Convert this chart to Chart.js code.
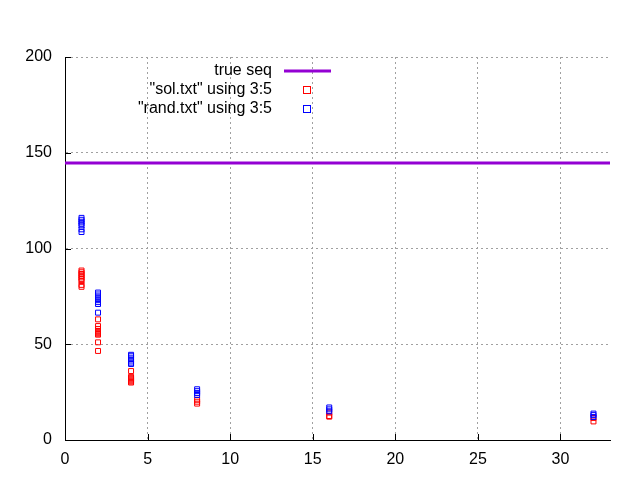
<!DOCTYPE html>
<html>
<head>
<meta charset="utf-8">
<script src="https://cdn.jsdelivr.net/npm/chart.js@4/dist/chart.umd.min.js"></script>
<style>
  html, body { margin: 0; padding: 0; background: #fff; }
  #wrap { width: 640px; height: 480px; }
</style>
</head>
<body>
<div id="wrap"><canvas id="c" width="640" height="480"></canvas></div>
<script>
// ---- data ----
const trueSeqLabel = 'true seq';
const solLabel = '"sol.txt" using 3:5';
const randLabel = '"rand.txt" using 3:5';

const trueSeqX = [0, 33];
const trueSeqY = [144.6, 144.6];

const solX = [1,1,1,1,1,1,1,1,1,
              2,2,2,2,2,2,2,2,2,2,
              4,4,4,4,4,4,4,4,
              8,8,8,
              16,16,16,
              32,32];
const solY = [88.5,87.6,86.7,85.8,84.9,84,83,81,80,
              63,59.5,58,57,56.5,56,55.5,55,51,46.5,
              36,33,32.5,32,31.5,31,30.5,30,
              21,20,19,
              14.3,12.5,12.2,
              11.5,9.7];

const randX = [1,1,1,1,1,1,1,
               2,2,2,2,2,2,2,2,
               4,4,4,4,4,4,4,
               8,8,8,8,
               16,16,16,
               32,32,32];
const randY = [116,115,114,113,112,110,108.6,
               77,76,75,74,73,72,71,66.5,
               44.5,44,43,42,41,40,39.7,
               26.5,25.5,24.5,23.5,
               17,16,15,
               13.8,13,12];

const xMin = 0, xMax = 33, xStep = 5;
const yMin = 0, yMax = 200, yStep = 50;

function pts(xs, ys) { return xs.map((x, i) => ({ x: x, y: ys[i] })); }

const FONT = '"Liberation Sans", Arial, sans-serif';

// custom gnuplot-style legend (text right-aligned, sample on the right)
const gnuLegend = {
  id: 'gnuLegend',
  afterDraw(chart) {
    const ctx = chart.ctx;
    const textRight = 272, sampleX = 307, rowY = [71, 90, 109];
    ctx.save();
    ctx.font = '16px ' + FONT;
    ctx.fillStyle = '#000';
    ctx.textAlign = 'right';
    ctx.textBaseline = 'middle';
    chart.data.datasets.forEach((ds, i) => {
      const y = rowY[i];
      ctx.fillText(ds.label, textRight, y);
      if (ds.showLine) {
        ctx.strokeStyle = ds.borderColor;
        ctx.lineWidth = ds.borderWidth;
        ctx.beginPath();
        ctx.moveTo(284, y);
        ctx.lineTo(331, y);
        ctx.stroke();
      } else {
        ctx.strokeStyle = ds.borderColor;
        ctx.lineWidth = 1;
        ctx.strokeRect(sampleX - 3.5, y - 3.5, 7, 7);
      }
    });
    ctx.restore();
  }
};

// inward tick marks like gnuplot
const innerTicks = {
  id: 'innerTicks',
  afterDraw(chart) {
    const ctx = chart.ctx, a = chart.chartArea;
    const xs = chart.scales.x, ys = chart.scales.y;
    ctx.save();
    ctx.strokeStyle = '#000';
    ctx.lineWidth = 1;
    ctx.beginPath();
    ys.ticks.forEach(t => {
      const y = Math.round(ys.getPixelForValue(t.value)) + 0.5;
      ctx.moveTo(a.left, y); ctx.lineTo(a.left + 6, y);
    });
    xs.ticks.forEach(t => {
      const x = Math.round(xs.getPixelForValue(t.value)) + 0.5;
      ctx.moveTo(x, a.bottom); ctx.lineTo(x, a.bottom - 6);
    });
    ctx.stroke();
    ctx.restore();
  }
};

new Chart(document.getElementById('c'), {
  type: 'scatter',
  data: {
    datasets: [
      {
        label: trueSeqLabel,
        data: pts(trueSeqX, trueSeqY),
        showLine: true,
        borderColor: '#9400d3',
        backgroundColor: '#9400d3',
        borderWidth: 3,
        pointRadius: 0,
        order: 2
      },
      {
        label: solLabel,
        data: pts(solX, solY),
        showLine: false,
        pointStyle: 'rect',
        pointRadius: 3.5,
        borderColor: '#ff0000',
        backgroundColor: 'rgba(0,0,0,0)',
        borderWidth: 1,
        order: 1
      },
      {
        label: randLabel,
        data: pts(randX, randY),
        showLine: false,
        pointStyle: 'rect',
        pointRadius: 3.5,
        borderColor: '#0000ff',
        backgroundColor: 'rgba(0,0,0,0)',
        borderWidth: 1,
        order: 0
      }
    ]
  },
  options: {
    responsive: false,
    animation: false,
    devicePixelRatio: 1,
    layout: { padding: { top: 57, right: 30, left: 0, bottom: 0 } },
    plugins: {
      legend: { display: false },
      tooltip: { enabled: false }
    },
    scales: {
      x: {
        type: 'linear',
        min: xMin, max: xMax,
        afterFit(s) { s.height = 40; },
        ticks: {
          stepSize: xStep,
          includeBounds: false,
          padding: 10,
          color: '#000',
          font: { family: FONT, size: 16 }
        },
        grid: {
          color: '#a0a0a0',
          drawTicks: false
        },
        border: { display: true, color: '#000', width: 1, dash: [2, 3] }
      },
      y: {
        type: 'linear',
        min: yMin, max: yMax,
        afterFit(s) { s.width = 65; },
        ticks: {
          stepSize: yStep,
          padding: 13,
          color: '#000',
          font: { family: FONT, size: 16 }
        },
        grid: {
          color: '#a0a0a0',
          drawTicks: false
        },
        border: { display: true, color: '#000', width: 1, dash: [2, 3] }
      }
    }
  },
  plugins: [gnuLegend, innerTicks]
});
</script>
</body>
</html>
